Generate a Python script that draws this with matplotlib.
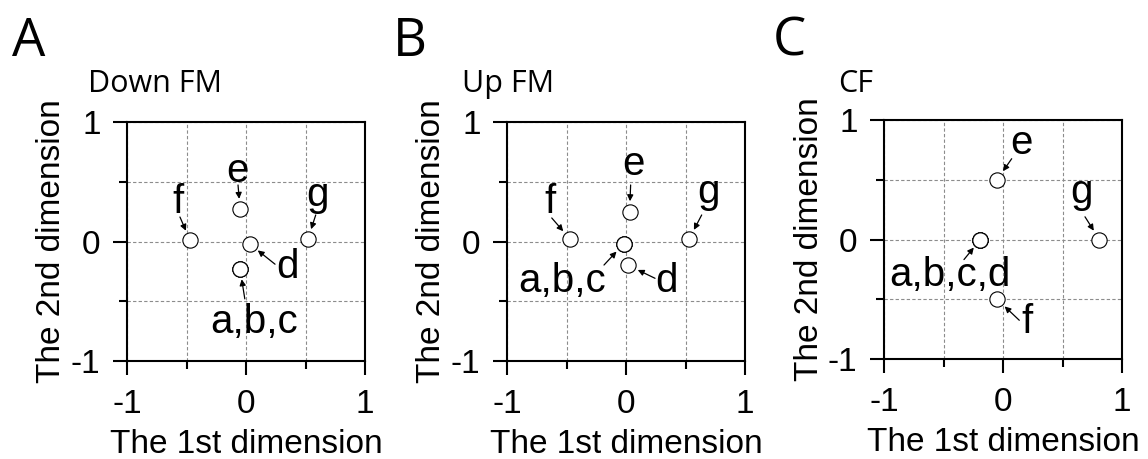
import matplotlib
matplotlib.use('Agg')
import matplotlib.pyplot as plt
from matplotlib.ticker import MultipleLocator

plt.rcParams['font.family'] = ['Liberation Sans', 'DejaVu Sans']

# stimulus labels and MDS coordinates for each panel
labels = ['a', 'b', 'c', 'd', 'e', 'f', 'g']
down_x = [-0.05, -0.05, -0.05, 0.03, -0.05, -0.47, 0.52]
down_y = [-0.23, -0.23, -0.23, -0.02, 0.27, 0.01, 0.02]
up_x = [-0.02, -0.02, -0.02, 0.02, 0.03, -0.47, 0.53]
up_y = [-0.02, -0.02, -0.02, -0.20, 0.25, 0.02, 0.02]
cf_x = [-0.19, -0.19, -0.19, -0.19, -0.05, -0.05, 0.81]
cf_y = [0.0, 0.0, 0.0, 0.0, 0.50, -0.50, 0.0]

panel_letters = ['A', 'B', 'C']
panel_titles = ['Down FM', 'Up FM', 'CF']

# label text, point index, text x, text baseline y, arrow tail x, arrow tail y
notes_down = [('f', 5, -0.57, 0.24, -0.555, 0.205),
              ('e', 4, -0.076, 0.50, -0.067, 0.473),
              ('g', 6, 0.60, 0.30, 0.586, 0.222),
              ('d', 3, 0.35, -0.305, 0.244, -0.19),
              ('a,b,c', 0, 0.07, -0.766, -0.01, -0.48)]
notes_up = [('f', 5, -0.64, 0.24, -0.624, 0.197),
            ('e', 4, 0.06, 0.556, 0.039, 0.473),
            ('g', 6, 0.69, 0.322, 0.636, 0.222),
            ('a,b,c', 0, -0.54, -0.42, -0.185, -0.197),
            ('d', 3, 0.34, -0.42, 0.244, -0.308)]
notes_cf = [('e', 4, 0.157, 0.712, 0.073, 0.676),
            ('g', 6, 0.66, 0.308, 0.689, 0.19),
            ('a,b,c,d', 0, -0.45, -0.391, -0.328, -0.168),
            ('f', 5, 0.204, -0.782, 0.137, -0.676)]

fig = plt.figure(figsize=(11.48, 4.59), dpi=100)

ax_lefts = [127, 507, 884]
ax_bottom = [98, 98, 100]
letter_x = [12, 393, 773]
title_x = [88, 462, 838]

panels = [(down_x, down_y, notes_down), (up_x, up_y, notes_up), (cf_x, cf_y, notes_cf)]

for i, (xs, ys, notes) in enumerate(panels):
    ax = fig.add_axes([ax_lefts[i] / 1148, ax_bottom[i] / 459, 238 / 1148, 239 / 459])
    ax.set_xlim(-1, 1)
    ax.set_ylim(-1, 1)
    ax.xaxis.set_minor_locator(MultipleLocator(0.5))
    ax.yaxis.set_minor_locator(MultipleLocator(0.5))
    ax.set_xticks([-1, 0, 1])
    ax.set_yticks([-1, 0, 1])
    ax.set_xticklabels(['-1', '0', '1'])
    ax.set_yticklabels(['-1', '0', '1'])
    ax.grid(True, which='both', color='0.55', linestyle=(0, (3, 2)), linewidth=0.8)
    ax.set_axisbelow(True)
    for s in ax.spines.values():
        s.set_linewidth(1.5)
    ax.tick_params(which='major', direction='out', length=10, width=1.5, labelsize=24)
    ax.tick_params(which='minor', direction='out', length=6, width=1.5)
    ax.tick_params(axis='x', which='major', pad=10)
    ax.tick_params(axis='y', which='major', pad=9)

    ax.plot(xs, ys, 'o', ms=11, mfc='white', mec='black', mew=0.8, ls='none', zorder=3)

    for txt, idx, tx, ty, ax_, ay in notes:
        ax.annotate('', xy=(xs[idx], ys[idx]), xytext=(ax_, ay),
                    arrowprops=dict(arrowstyle='-|>', color='black', lw=0.9,
                                    mutation_scale=9, shrinkA=0, shrinkB=7.5),
                    zorder=4)
        ax.text(tx, ty, txt, fontsize=29, ha='center', va='baseline', zorder=4)

    ax.set_xlabel('The 1st dimension', fontsize=24)
    ax.xaxis.label.set_va('baseline')
    ax.xaxis.set_label_coords(0.5, -0.385)
    ax.set_ylabel('The 2nd dimension', fontsize=24)
    ax.yaxis.set_label_coords(-0.25, 0.5)

    fig.text(letter_x[i] / 1148, 1 - 56 / 459, panel_letters[i], fontsize=38,
             family='Open Sans', va='baseline', ha='left')
    fig.text(title_x[i] / 1148, 1 - 92 / 459, panel_titles[i], fontsize=22,
             family='Open Sans', va='baseline', ha='left')

fig.savefig('out.png', dpi=100)
